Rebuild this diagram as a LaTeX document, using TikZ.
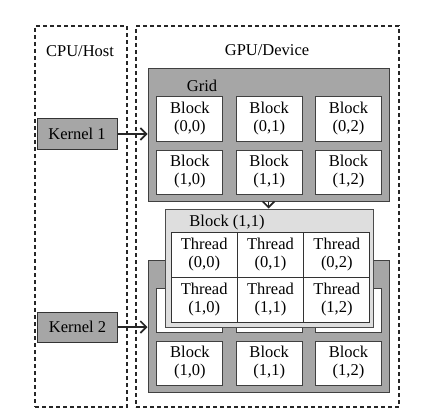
\documentclass[tikz,border=0pt]{standalone}
\usepackage{fontspec}
\setmainfont{Liberation Serif}
\usepackage{tikz}
\usetikzlibrary{positioning, arrows.meta, calc}

\begin{document}
\begin{tikzpicture}[x=1pt, y=-1pt]
	
	% 定义样式
	\tikzset{
		txt/.style = {font=\fontsize{16.5}{18}\selectfont, inner sep=0pt, align=center},
		region/.style = {draw=black!85, line width=1.3pt, dash pattern=on 4pt off 3pt},
		kernelbox/.style = {txt, draw=black!80, fill=black!35, line width=1pt,
			minimum width=80pt, minimum height=30pt},
		gridbox/.style = {draw=black!75, fill=black!35, line width=1pt,
			minimum width=241pt, minimum height=132pt},
		blockbox/.style = {txt, draw=black!75, fill=white, line width=1pt,
			minimum width=66pt, minimum height=44pt},
		panel/.style = {draw=black!70, fill=black!13, line width=1pt,
			minimum width=208pt, minimum height=118pt},
		threadbox/.style = {txt, draw=black!80, fill=white, line width=1pt,
			minimum width=66.3pt, minimum height=45pt},
		flow/.style = {-{Straight Barb[length=6pt, width=12pt]}, line width=1.6pt, black!85}
	}
	
	% 参数设置
	\def \colW {79.3}
	\def \rowH {53}
	
	\useasboundingbox (0,0) rectangle (443,414);
	
	% 外框
	\node[region, minimum width=92pt, minimum height=381pt] (cpu) at (81,216.5) {};
	\node[region, minimum width=263pt, minimum height=381pt] (gpu) at (267.5,216.5) {};
	\node[txt] (cpulabel) at (80,51) {CPU/Host};
	\node[txt] (gpulabel) at (267,50) {GPU/Device};
	
	% 上面的网格
	\node[gridbox] (grid1) at (268.5,135) {};
	\node[txt] (gridlabel) at (202,86) {Grid};
	\foreach \r in {0,1} {
		\foreach \c in {0,1,2} {
			\node[blockbox] (b1-\r\c) at ({189.9+\colW*\c},{119+\rowH*\r}) {Block\\(\r,\c)};
		}
	}
	
	% 下面的网格（第一行被挡住）
	\node[gridbox] (grid2) at (268.5,326) {};
	\foreach \c in {0,1,2} {
		\node[blockbox] (b2-0\c) at ({189.9+\colW*\c},310) {};
		\node[blockbox] (b2-1\c) at ({189.9+\colW*\c},363) {Block\\(1,\c)};
	}
	
	% 放大的 Block (1,1)
	\node[panel] (blk) at (269,268) {};
	\node[txt] (blklabel) at (227,223) {Block (1,1)};
	\foreach \r in {0,1} {
		\foreach \c in {0,1,2} {
			\node[threadbox] (t-\r\c) at ({204.2+66.3*\c},{254.5+45*\r}) {Thread\\(\r,\c)};
		}
	}
	
	% 内核
	\node[kernelbox] (k1) at (77,134) {Kernel 1};
	\node[kernelbox] (k2) at (77.5,327) {Kernel 2};
	
	% 箭头
	\draw[flow] (k1.east) -- (k1.east -| grid1.west);
	\draw[flow] (k2.east) -- (k2.east -| grid2.west);
	\draw[flow] (grid1.south) -- (grid1.south |- blk.north);
	
\end{tikzpicture}
\end{document}
